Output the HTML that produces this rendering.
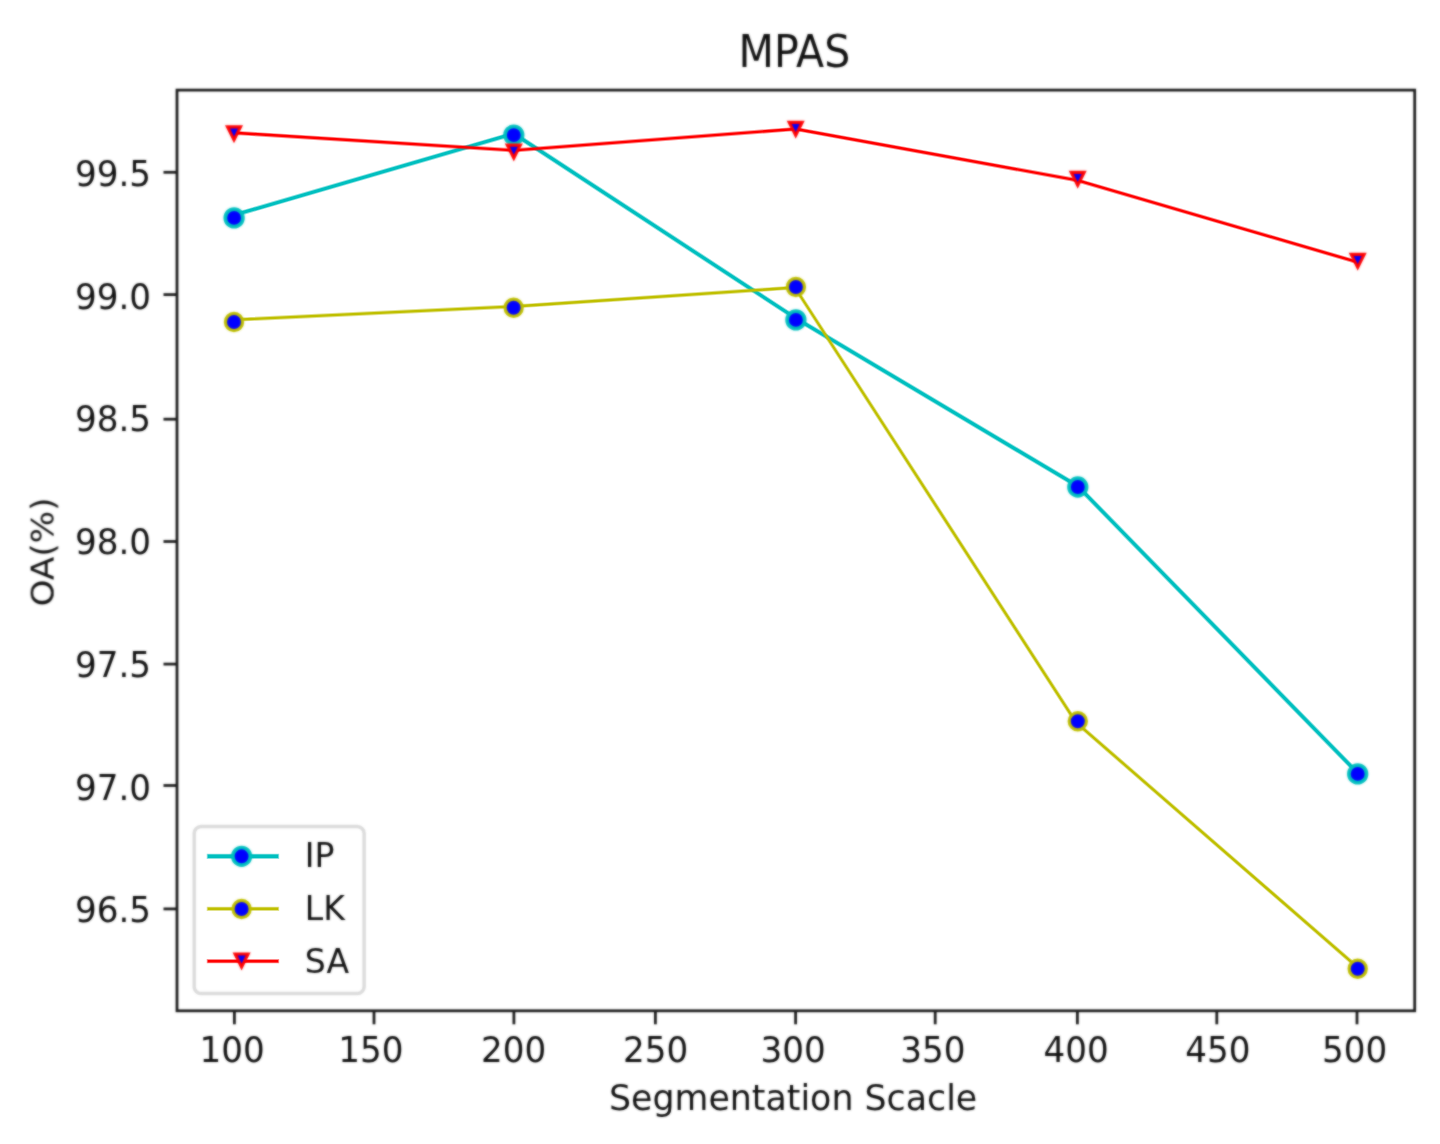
<!DOCTYPE html>
<html lang="en">
<head>
<meta charset="utf-8">
<title>MPAS</title>
<style>
html,body{margin:0;padding:0;background:#ffffff;}
body{width:1440px;height:1144px;overflow:hidden;}
svg{display:block;}
</style>
</head>
<body>
<svg width="1440" height="1144" viewBox="0 0 1440 1144" font-family="'DejaVu Sans', 'Liberation Sans', sans-serif" fill="#111111">
<rect x="0" y="0" width="1440" height="1144" fill="#ffffff"/>
<defs><filter id="soft" x="0" y="0" width="1440" height="1144" filterUnits="userSpaceOnUse" color-interpolation-filters="sRGB"><feGaussianBlur stdDeviation="0.90" result="b"/><feComposite in="SourceGraphic" in2="b" operator="arithmetic" k1="0" k2="0.30" k3="0.70" k4="0"/></filter></defs>
<g id="series">
<g><polyline points="234.10,215.10 513.80,133.60 795.90,318.30 1077.80,486.20 1357.70,773.10" fill="none" stroke="#00bfbf" stroke-width="4.90" stroke-linejoin="round" stroke-linecap="butt" stroke-opacity="0.45"/><polyline points="234.10,215.10 513.80,133.60 795.90,318.30 1077.80,486.20 1357.70,773.10" fill="none" stroke="#00bfbf" stroke-width="3.10" stroke-linejoin="round" stroke-linecap="butt"/></g>
<g filter="url(#soft)">
<circle cx="234.10" cy="217.90" r="8.80" fill="#0000ff" stroke="#00bfbf" stroke-width="3.70"/>
<circle cx="513.80" cy="135.10" r="8.80" fill="#0000ff" stroke="#00bfbf" stroke-width="3.70"/>
<circle cx="795.90" cy="319.90" r="8.80" fill="#0000ff" stroke="#00bfbf" stroke-width="3.70"/>
<circle cx="1077.80" cy="487.00" r="8.80" fill="#0000ff" stroke="#00bfbf" stroke-width="3.70"/>
<circle cx="1357.70" cy="773.90" r="8.80" fill="#0000ff" stroke="#00bfbf" stroke-width="3.70"/>
</g>
<g><polyline points="234.00,319.80 513.65,306.50 794.90,287.50 1076.00,722.40 1358.50,968.10" fill="none" stroke="#bfbf00" stroke-width="4.10" stroke-linejoin="round" stroke-linecap="butt" stroke-opacity="0.45"/><polyline points="234.00,319.80 513.65,306.50 794.90,287.50 1076.00,722.40 1358.50,968.10" fill="none" stroke="#bfbf00" stroke-width="2.30" stroke-linejoin="round" stroke-linecap="butt"/></g>
<g filter="url(#soft)">
<circle cx="234.00" cy="322.00" r="8.60" fill="#0000ff" stroke="#bfbf00" stroke-width="3.20"/>
<circle cx="513.65" cy="307.70" r="8.60" fill="#0000ff" stroke="#bfbf00" stroke-width="3.20"/>
<circle cx="795.90" cy="287.00" r="8.60" fill="#0000ff" stroke="#bfbf00" stroke-width="3.20"/>
<circle cx="1077.80" cy="721.20" r="8.60" fill="#0000ff" stroke="#bfbf00" stroke-width="3.20"/>
<circle cx="1357.70" cy="968.70" r="8.60" fill="#0000ff" stroke="#bfbf00" stroke-width="3.20"/>
</g>
<g><polyline points="234.00,132.80 513.80,150.40 795.70,129.00 1077.70,180.40 1357.70,262.20" fill="none" stroke="#ff0000" stroke-width="4.20" stroke-linejoin="round" stroke-linecap="butt" stroke-opacity="0.45"/><polyline points="234.00,132.80 513.80,150.40 795.70,129.00 1077.70,180.40 1357.70,262.20" fill="none" stroke="#ff0000" stroke-width="2.40" stroke-linejoin="round" stroke-linecap="butt"/></g>
<g filter="url(#soft)">
<path d="M234.00 139.90 L240.50 126.90 L227.50 126.90 Z" fill="#0000ff" stroke="#ff0000" stroke-width="3.10" stroke-linejoin="miter"/>
<path d="M513.80 158.10 L520.30 145.10 L507.30 145.10 Z" fill="#0000ff" stroke="#ff0000" stroke-width="3.10" stroke-linejoin="miter"/>
<path d="M795.70 135.40 L802.20 122.40 L789.20 122.40 Z" fill="#0000ff" stroke="#ff0000" stroke-width="3.10" stroke-linejoin="miter"/>
<path d="M1077.70 185.40 L1084.20 172.40 L1071.20 172.40 Z" fill="#0000ff" stroke="#ff0000" stroke-width="3.10" stroke-linejoin="miter"/>
<path d="M1357.70 267.40 L1364.20 254.40 L1351.20 254.40 Z" fill="#0000ff" stroke="#ff0000" stroke-width="3.10" stroke-linejoin="miter"/>
</g>
</g>
<g id="frame" filter="url(#soft)">
<rect x="177.00" y="90.10" width="1237.70" height="920.70" fill="none" stroke="#1c1c1c" stroke-width="2.77" stroke-linejoin="miter"/>
<g stroke="#1c1c1c" stroke-width="2.77">
<line x1="234.40" y1="1010.80" x2="234.40" y2="1024.31"/>
<line x1="374.00" y1="1010.80" x2="374.00" y2="1024.31"/>
<line x1="513.90" y1="1010.80" x2="513.90" y2="1024.31"/>
<line x1="655.40" y1="1010.80" x2="655.40" y2="1024.31"/>
<line x1="795.60" y1="1010.80" x2="795.60" y2="1024.31"/>
<line x1="935.20" y1="1010.80" x2="935.20" y2="1024.31"/>
<line x1="1077.40" y1="1010.80" x2="1077.40" y2="1024.31"/>
<line x1="1216.80" y1="1010.80" x2="1216.80" y2="1024.31"/>
<line x1="1357.00" y1="1010.80" x2="1357.00" y2="1024.31"/>
<line x1="177.00" y1="172.30" x2="163.49" y2="172.30"/>
<line x1="177.00" y1="294.60" x2="163.49" y2="294.60"/>
<line x1="177.00" y1="419.20" x2="163.49" y2="419.20"/>
<line x1="177.00" y1="541.50" x2="163.49" y2="541.50"/>
<line x1="177.00" y1="664.10" x2="163.49" y2="664.10"/>
<line x1="177.00" y1="785.50" x2="163.49" y2="785.50"/>
<line x1="177.00" y1="908.90" x2="163.49" y2="908.90"/>
</g>
<text transform="translate(232.10 1062.00) scale(0.9870 1.0000)" font-size="34.65" text-anchor="middle">100</text>
<text transform="translate(370.90 1062.00) scale(0.9870 1.0000)" font-size="34.65" text-anchor="middle">150</text>
<text transform="translate(513.50 1062.00) scale(0.9870 1.0000)" font-size="34.65" text-anchor="middle">200</text>
<text transform="translate(655.50 1062.00) scale(0.9870 1.0000)" font-size="34.65" text-anchor="middle">250</text>
<text transform="translate(793.00 1062.00) scale(0.9870 1.0000)" font-size="34.65" text-anchor="middle">300</text>
<text transform="translate(932.80 1062.00) scale(0.9870 1.0000)" font-size="34.65" text-anchor="middle">350</text>
<text transform="translate(1076.00 1062.00) scale(0.9870 1.0000)" font-size="34.65" text-anchor="middle">400</text>
<text transform="translate(1217.80 1062.00) scale(0.9870 1.0000)" font-size="34.65" text-anchor="middle">450</text>
<text transform="translate(1354.70 1062.00) scale(0.9870 1.0000)" font-size="34.65" text-anchor="middle">500</text>
<text transform="translate(151.00 186.00) scale(0.9870 1.0000)" font-size="34.65" text-anchor="end">99.5</text>
<text transform="translate(151.00 308.70) scale(0.9870 1.0000)" font-size="34.65" text-anchor="end">99.0</text>
<text transform="translate(151.00 431.40) scale(0.9870 1.0000)" font-size="34.65" text-anchor="end">98.5</text>
<text transform="translate(151.00 554.10) scale(0.9870 1.0000)" font-size="34.65" text-anchor="end">98.0</text>
<text transform="translate(151.00 676.90) scale(0.9870 1.0000)" font-size="34.65" text-anchor="end">97.5</text>
<text transform="translate(151.00 799.60) scale(0.9870 1.0000)" font-size="34.65" text-anchor="end">97.0</text>
<text transform="translate(151.00 922.30) scale(0.9870 1.0000)" font-size="34.65" text-anchor="end">96.5</text>
<text transform="translate(793.10 1110.00) scale(1.0044 1.0000)" font-size="34.65" text-anchor="middle">Segmentation Scacle</text>
<text transform="translate(53.30 551.95) rotate(-90) scale(0.9850 0.9300)" font-size="34.65" text-anchor="middle">OA(%)</text>
<text transform="translate(794.35 66.60) scale(0.9240 1.0000)" font-size="44.43" text-anchor="middle">MPAS</text>
<rect x="194.20" y="826.40" width="169.90" height="167.20" rx="6.9" ry="6.9" fill="#ffffff" fill-opacity="0.8" stroke="#cccccc" stroke-opacity="0.7" stroke-width="3.46"/>
</g>
<g id="handles">
<line x1="206.75" y1="856.30" x2="279.15" y2="856.30" stroke="#00bfbf" stroke-width="5.20" stroke-opacity="0.45" stroke-linecap="butt"/>
<line x1="207.65" y1="856.30" x2="278.25" y2="856.30" stroke="#00bfbf" stroke-width="3.40" stroke-linecap="butt"/>
<line x1="206.75" y1="908.80" x2="279.15" y2="908.80" stroke="#bfbf00" stroke-width="4.30" stroke-opacity="0.45" stroke-linecap="butt"/>
<line x1="207.65" y1="908.80" x2="278.25" y2="908.80" stroke="#bfbf00" stroke-width="2.50" stroke-linecap="butt"/>
<line x1="206.75" y1="961.20" x2="279.15" y2="961.20" stroke="#ff0000" stroke-width="4.30" stroke-opacity="0.45" stroke-linecap="butt"/>
<line x1="207.65" y1="961.20" x2="278.25" y2="961.20" stroke="#ff0000" stroke-width="2.50" stroke-linecap="butt"/>
</g>
<g id="legendtext" filter="url(#soft)">
<circle cx="241.60" cy="856.30" r="8.80" fill="#0000ff" stroke="#00bfbf" stroke-width="3.70"/>
<text transform="translate(304.80 867.30) scale(0.9550 0.9700)" font-size="34.65" text-anchor="start">IP</text>
<circle cx="241.60" cy="909.00" r="8.60" fill="#0000ff" stroke="#bfbf00" stroke-width="3.20"/>
<text transform="translate(304.80 919.80) scale(0.9550 0.9700)" font-size="34.65" text-anchor="start">LK</text>
<path d="M241.60 967.00 L248.10 954.00 L235.10 954.00 Z" fill="#0000ff" stroke="#ff0000" stroke-width="3.10" stroke-linejoin="miter"/>
<text transform="translate(304.80 972.60) scale(0.9550 0.9700)" font-size="34.65" text-anchor="start">SA</text>
</g>
</svg>
</body>
</html>
